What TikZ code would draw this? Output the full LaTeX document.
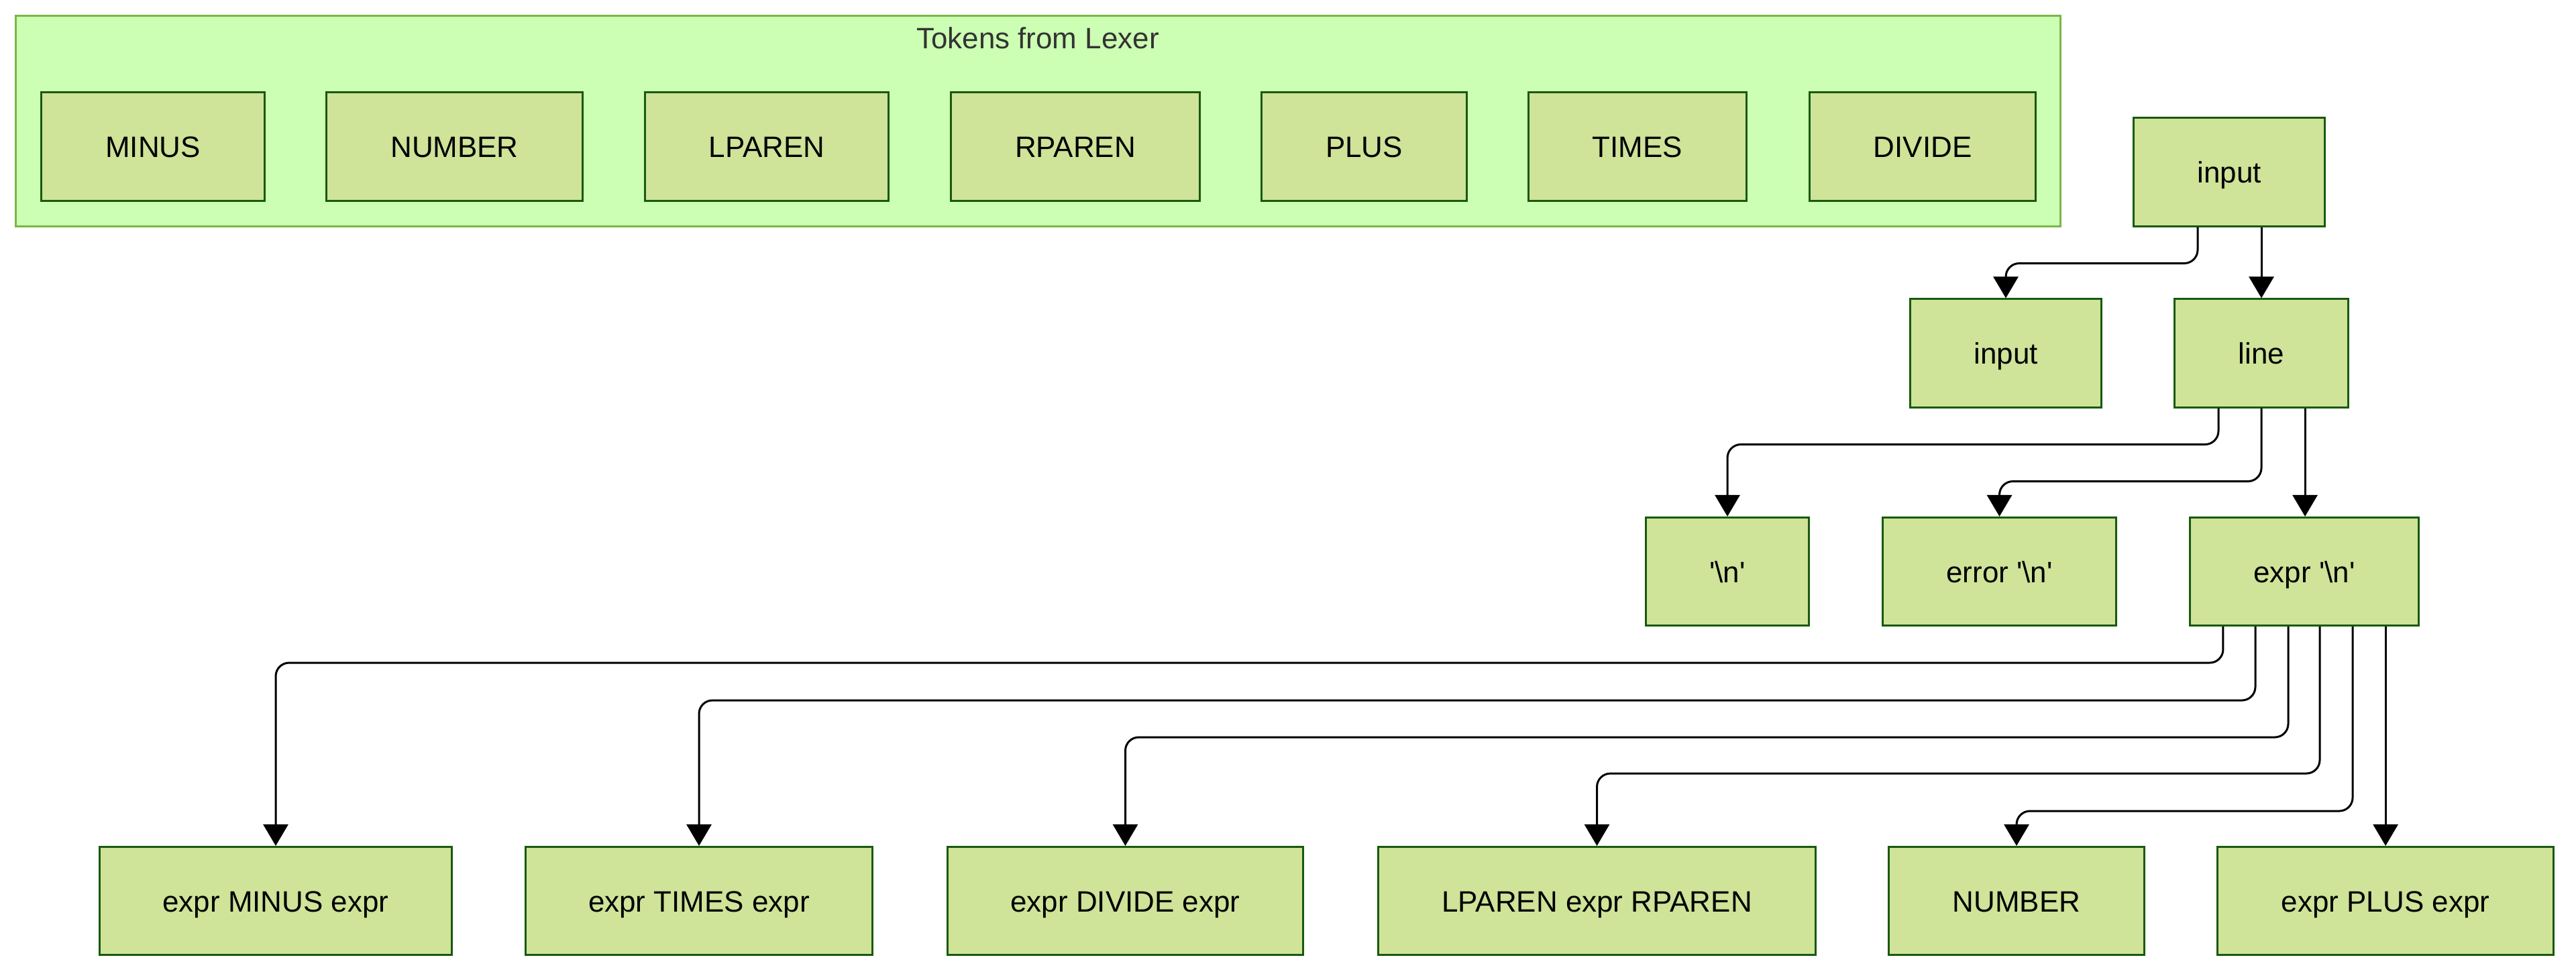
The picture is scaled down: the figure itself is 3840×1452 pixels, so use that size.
\documentclass[tikz,border=0pt]{standalone}
\usepackage{fontspec}
\setmainfont{Liberation Sans}
\usetikzlibrary{arrows.meta}
\definecolor{boxfill}{RGB}{207,227,153}
\definecolor{boxline}{RGB}{24,90,14}
\definecolor{clfill}{RGB}{204,255,179}
\definecolor{clline}{RGB}{122,182,72}
\definecolor{titletext}{RGB}{51,51,51}
\newcommand{\sq}{\textquotesingle}
\tikzset{
  px/.style={x=0.01cm,y=-0.01cm},
  gbox/.style={draw=boxline, fill=boxfill, line width=0.03cm, rectangle,
    inner sep=0pt, minimum height=1.61cm,
    font=\fontsize{12.5}{15}\selectfont, text=black,
    text height=1.1em, text depth=0.165em},
  cluster/.style={draw=clline, fill=clfill, line width=0.03cm},
  conn/.style={draw=black, line width=0.03cm, rounded corners=0.2cm,
    -{Triangle[length=0.32cm,width=0.37cm]}}
}
\begin{document}
\begin{tikzpicture}[px]
\useasboundingbox (0,0) rectangle (3840,1452);
% cluster
\node[cluster, rectangle, inner sep=0pt, minimum width=30.47cm, minimum height=3.13cm] (lexer) at (1547.5,180.5) {};
\node[font=\fontsize{12.5}{15}\selectfont, text=titletext, text height=1.1em, text depth=0.165em] (lexertitle) at (1547,56) {Tokens from Lexer};
% tokens
\node[gbox, minimum width=3.32cm] (tMINUS) at (228,218.5) {MINUS};
\node[gbox, minimum width=3.81cm] (tNUMBER) at (677.5,218.5) {NUMBER};
\node[gbox, minimum width=3.62cm] (tLPAREN) at (1143,218.5) {LPAREN};
\node[gbox, minimum width=3.70cm] (tRPAREN) at (1603,218.5) {RPAREN};
\node[gbox, minimum width=3.05cm] (tPLUS) at (2033.5,218.5) {PLUS};
\node[gbox, minimum width=3.24cm] (tTIMES) at (2441,218.5) {TIMES};
\node[gbox, minimum width=3.36cm] (tDIVIDE) at (2866,218.5) {DIVIDE};
% tree
\node[gbox, minimum width=2.84cm] (input) at (3323,256.5) {input};
\node[gbox, minimum width=2.84cm] (input2) at (2990,526.5) {input};
\node[gbox, minimum width=2.58cm] (line) at (3371,526.5) {line};
\node[gbox, minimum width=2.42cm] (nl) at (2575,852) {\sq\textbackslash n\sq};
\node[gbox, minimum width=3.47cm] (err) at (2980.5,852) {error \sq\textbackslash n\sq};
\node[gbox, minimum width=3.40cm] (exprnl) at (3435,852) {expr \sq\textbackslash n\sq};
\node[gbox, minimum width=5.24cm] (bMINUS) at (411,1343) {expr MINUS expr};
\node[gbox, minimum width=5.16cm] (bTIMES) at (1042,1343) {expr TIMES expr};
\node[gbox, minimum width=5.29cm] (bDIVIDE) at (1677.5,1343) {expr DIVIDE expr};
\node[gbox, minimum width=6.51cm] (bPAREN) at (2380.5,1343) {LPAREN expr RPAREN};
\node[gbox, minimum width=3.80cm] (bNUMBER) at (3006,1343) {NUMBER};
\node[gbox, minimum width=5.00cm] (bPLUS) at (3556,1343) {expr PLUS expr};
% connectors
\draw[conn] ([xshift=-0.47cm]input.south) -- ++(0,54) -| (input2.north);
\draw[conn] ([xshift=0.48cm]input.south) -- ([xshift=0.48cm]input.south |- line.north);
\draw[conn] ([xshift=-0.64cm]line.south) -- ++(0,54) -| (nl.north);
\draw[conn] (line.south) -- ++(0,109) -| (err.north);
\draw[conn] ([xshift=0.65cm]line.south) -- ([xshift=0.65cm]line.south |- exprnl.north);
\draw[conn] ([xshift=-1.21cm]exprnl.south) -- ++(0,54) -| (bMINUS.north);
\draw[conn] ([xshift=-0.73cm]exprnl.south) -- ++(0,110) -| (bTIMES.north);
\draw[conn] ([xshift=-0.24cm]exprnl.south) -- ++(0,165) -| (bDIVIDE.north);
\draw[conn] ([xshift=0.23cm]exprnl.south) -- ++(0,219) -| (bPAREN.north);
\draw[conn] ([xshift=0.72cm]exprnl.south) -- ++(0,275) -| (bNUMBER.north);
\draw[conn] ([xshift=1.21cm]exprnl.south) -- ([xshift=1.21cm]exprnl.south |- bPLUS.north);
\end{tikzpicture}
\end{document}
